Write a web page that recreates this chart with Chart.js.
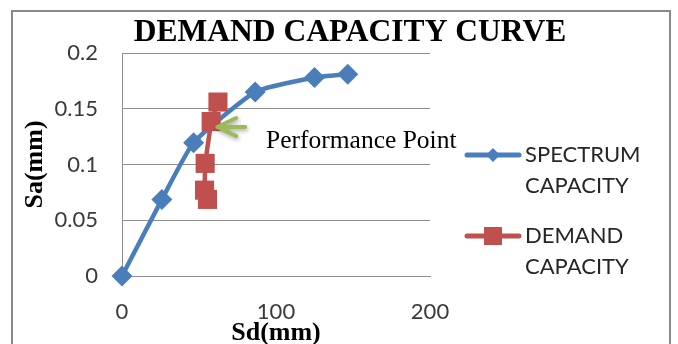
<!DOCTYPE html>
<html>
<head>
<meta charset="utf-8">
<script src="https://cdn.jsdelivr.net/npm/chart.js@4.4.1/dist/chart.umd.min.js"></script>
<style>
  html, body { margin: 0; padding: 0; background: #fff; }
  #wrap { width: 678px; height: 344px; position: relative; }
</style>
</head>
<body>
<div id="wrap"><canvas id="demandChart" width="678" height="344"></canvas></div>
<script>
// values
const spectrumSd = [0, 25.9, 46.5, 86.5, 125, 146.6];
const spectrumSa = [0, 0.0687, 0.1196, 0.165, 0.178, 0.181];
const demandSd = [62.3, 57.9, 54.0, 53.6, 55.5];
const demandSa = [0.156, 0.1385, 0.101, 0.077, 0.0687];

const xTickLabels = ['0', '100', '200'];
const yTickLabels = ['0', '0.05', '0.1', '0.15', '0.2'];
const spectrumLabel = ['SPECTRUM', 'CAPACITY'];
const demandLabel = ['DEMAND', 'CAPACITY'];
const chartTitle = 'DEMAND CAPACITY CURVE';
const noteText = 'Performance Point';
const notePoint = { x: 60.5, y: 0.1345 };

const blue = '#4a7ebb';
const red = '#c0504d';
const green = '#9bbb59';

const decor = {
  id: 'decor',
  beforeDraw(chart) {
    const ctx = chart.ctx;
    ctx.save();
    ctx.fillStyle = '#fff';
    ctx.fillRect(0, 0, chart.width, chart.height);
    ctx.strokeStyle = '#8a8a8a';
    ctx.lineWidth = 2;
    ctx.strokeRect(12, 11, 658, 400);
    ctx.restore();
  },
  afterDraw(chart) {
    const ctx = chart.ctx;
    const xs = chart.scales.x, ys = chart.scales.y;
    ctx.save();

    // title
    ctx.fillStyle = '#000';
    ctx.font = 'bold 31.5px "Liberation Serif"';
    ctx.textAlign = 'center';
    ctx.textBaseline = 'middle';
    ctx.fillText(chartTitle, 350, 33);

    // performance point note
    const tx = xs.getPixelForValue(notePoint.x);
    const ty = ys.getPixelForValue(notePoint.y);
    ctx.shadowColor = 'rgba(0,0,0,0.35)';
    ctx.shadowBlur = 4;
    ctx.shadowOffsetX = 1;
    ctx.shadowOffsetY = 2;
    ctx.strokeStyle = green;
    ctx.lineWidth = 4;
    ctx.lineCap = 'round';
    ctx.lineJoin = 'round';
    ctx.beginPath();
    ctx.moveTo(tx + 30, ty + 1);
    ctx.lineTo(tx + 2, ty + 1);
    ctx.moveTo(tx + 21, ty - 8);
    ctx.lineTo(tx + 2, ty + 1);
    ctx.lineTo(tx + 21, ty + 10);
    ctx.stroke();
    ctx.shadowColor = 'transparent';

    ctx.fillStyle = '#000';
    ctx.font = '25.5px "Liberation Serif"';
    ctx.textAlign = 'left';
    ctx.fillText(noteText, 266, 141);

    // legend
    const rows = [
      { color: blue, style: 'diamond', label: spectrumLabel, y: 155 },
      { color: red, style: 'square', label: demandLabel, y: 236 }
    ];
    rows.forEach(r => {
      ctx.strokeStyle = r.color;
      ctx.fillStyle = r.color;
      ctx.lineWidth = 5;
      ctx.lineCap = 'round';
      ctx.beginPath();
      ctx.moveTo(467, r.y);
      ctx.lineTo(519, r.y);
      ctx.stroke();
      ctx.beginPath();
      if (r.style === 'diamond') {
        ctx.moveTo(493, r.y - 7);
        ctx.lineTo(500, r.y);
        ctx.lineTo(493, r.y + 7);
        ctx.lineTo(486, r.y);
        ctx.closePath();
        ctx.fill();
      } else {
        ctx.fillRect(484, r.y - 9, 18, 18);
      }
      ctx.fillStyle = '#262626';
      ctx.font = '22px Lato';
      ctx.textAlign = 'left';
      ctx.textBaseline = 'middle';
      r.label.forEach((t, i) => ctx.fillText(t, 525, r.y + i * 31));
    });
    ctx.restore();
  }
};

new Chart(document.getElementById('demandChart'), {
  type: 'line',
  data: {
    datasets: [
      {
        label: demandLabel.join(' '),
        data: demandSd.map((v, i) => ({ x: v, y: demandSa[i] })),
        borderColor: red,
        backgroundColor: red,
        borderWidth: 4.5,
        pointStyle: 'rect',
        pointRadius: 13.5,
        pointBorderWidth: 0,
        tension: 0,
        clip: false,
        order: 0
      },
      {
        label: spectrumLabel.join(' '),
        data: spectrumSd.map((v, i) => ({ x: v, y: spectrumSa[i] })),
        borderColor: blue,
        backgroundColor: blue,
        borderWidth: 4.5,
        pointStyle: 'rectRot',
        pointRadius: 10.5,
        pointBorderWidth: 0,
        tension: 0.15,
        clip: false,
        order: 1
      }
    ]
  },
  options: {
    responsive: false,
    animation: false,
    devicePixelRatio: 1,
    layout: { padding: { left: 0, right: 248, top: 53, bottom: 0 } },
    plugins: {
      legend: { display: false },
      tooltip: { enabled: false }
    },
    scales: {
      x: {
        type: 'linear',
        min: 0,
        max: 200,
        ticks: {
          stepSize: 100,
          padding: 23,
          color: '#3a3a3a',
          font: { family: 'Lato', size: 22 },
          callback: (v, i) => xTickLabels[i]
        },
        grid: { display: false, drawTicks: false },
        border: { display: true, color: '#8e8e8e', width: 1 },
        title: {
          display: true,
          text: 'Sd(mm)',
          color: '#000',
          font: { family: 'Liberation Serif', size: 26, weight: 'bold' },
          padding: { top: 0, bottom: -5 }
        },
        afterFit(s) { s.height = 68; }
      },
      y: {
        type: 'linear',
        min: 0,
        max: 0.2,
        ticks: {
          stepSize: 0.05,
          padding: 24,
          color: '#3a3a3a',
          font: { family: 'Lato', size: 22 },
          callback: (v, i) => yTickLabels[i]
        },
        grid: { color: '#8e8e8e', lineWidth: 1, drawTicks: false },
        border: { display: true, color: '#8e8e8e', width: 1 },
        title: {
          display: true,
          text: 'Sa(mm)',
          color: '#000',
          font: { family: 'Liberation Serif', size: 26, weight: 'bold' },
          padding: { top: 20, bottom: 0 }
        },
        afterFit(s) { s.width = 122; }
      }
    }
  },
  plugins: [decor]
});
</script>
</body>
</html>
